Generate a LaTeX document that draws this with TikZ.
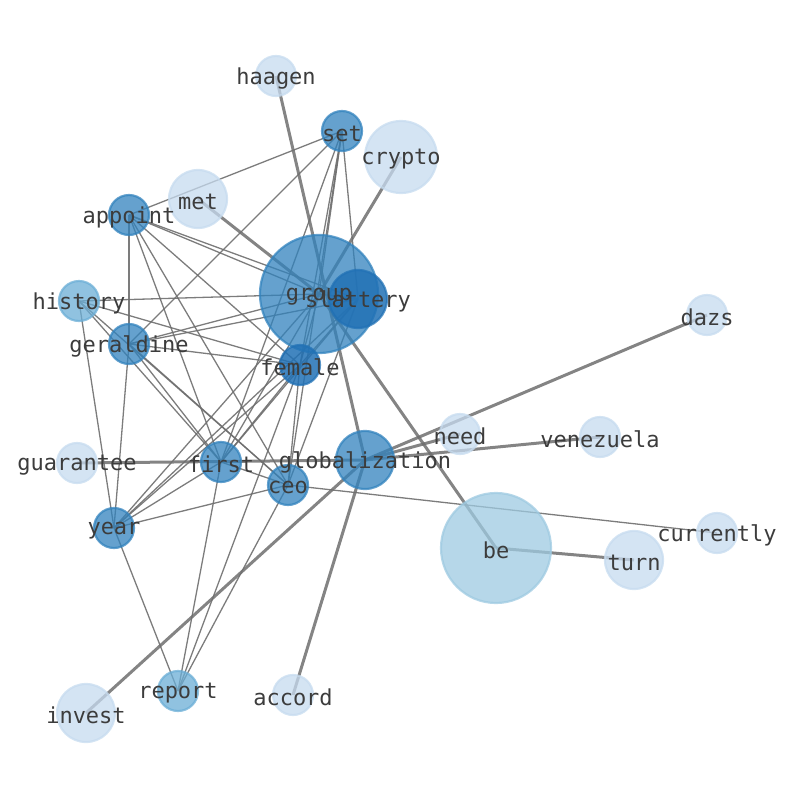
\documentclass[tikz,border=0pt]{standalone}
\usepackage{fontspec}
\newfontfamily\wordfont{DejaVu Sans Mono}
\usepackage{tikz}
\usetikzlibrary{calc}
\pgfdeclarelayer{edges}
\pgfdeclarelayer{labels}
\pgfsetlayers{edges,main,labels}
\definecolor{palec}{RGB}{198,219,239}
\definecolor{bec}{RGB}{158,202,225}
\definecolor{midc}{RGB}{107,174,214}
\definecolor{darkc}{RGB}{49,130,189}
\definecolor{deepc}{RGB}{33,113,181}
\definecolor{edgec}{RGB}{110,110,110}
\definecolor{textc}{RGB}{60,60,60}
\tikzset{
	wnode/.style={circle, inner sep=0pt, line width=2.2pt, fill opacity=.75, draw opacity=.75},
	pale/.style={wnode, draw=palec, fill=palec},
	bubble/.style={wnode, draw=bec, fill=bec},
	mid/.style={wnode, draw=midc, fill=midc},
	dark/.style={wnode, draw=darkc, fill=darkc},
	deep/.style={wnode, draw=deepc, fill=deepc, fill opacity=.85},
	wlabel/.style={inner sep=0pt, yshift=-2.5pt, text=textc, font=\wordfont\fontsize{22}{22}\selectfont},
	thinedge/.style={edgec, line width=1.3pt, opacity=.9},
	thickedge/.style={edgec, line width=3pt, opacity=.85}
}
\def\wordnode[#1](#2)(#3,#4)(#5){\node[#1, minimum size={2*#5-2}] (#2) at (#3,#4) {};
	\begin{pgfonlayer}{labels}\node[wlabel] (#2-w) at (#2.center) {#2};\end{pgfonlayer}}

\begin{document}
\begin{tikzpicture}[x=1pt, y=-1pt]
		%%%%% START %%%%%
		\useasboundingbox (0,0) rectangle (794,790);
		
		\wordnode[pale](haagen)(276,76)(21);
		\wordnode[dark](set)(342,131)(21);
		\wordnode[pale](crypto)(401,157)(37);
		\wordnode[pale](met)(198,199)(30);
		\wordnode[dark](appoint)(129,215)(21);
		\wordnode[dark](group)(319,294)(60);
		\wordnode[deep](slattery)(358,299)(30);
		\wordnode[mid](history)(79,301)(21);
		\wordnode[dark](geraldine)(129,344)(21);
		\wordnode[deep](female)(300,365)(21);
		\wordnode[pale](dazs)(707,315)(21);
		\wordnode[pale](need)(460,434)(21);
		\wordnode[pale](venezuela)(600,437)(21);
		\wordnode[pale](guarantee)(77,463)(21);
		\wordnode[dark](first)(221,462)(21);
		\wordnode[dark](globalization)(365,460)(30);
		\wordnode[dark](ceo)(288,485)(21);
		\wordnode[dark](year)(114,528)(21);
		\wordnode[bubble](be)(496,548)(56);
		\wordnode[pale](turn)(634,560)(30);
		\wordnode[pale](currently)(717,533)(21);
		\wordnode[mid](report)(178,691)(21);
		\wordnode[pale](accord)(293,695)(21);
		\wordnode[pale](invest)(86,713)(30);
		
		\begin{pgfonlayer}{edges}
		% thin links
		\foreach \a/\b in {set/appoint, set/geraldine, set/group, set/slattery, set/female, set/first, set/ceo,
			appoint/group, appoint/slattery, appoint/female, appoint/geraldine, appoint/first, appoint/ceo,
			history/group, history/female, history/first, history/ceo, history/year,
			geraldine/group, geraldine/slattery, geraldine/female, geraldine/first, geraldine/ceo, geraldine/year,
			group/slattery, group/female, group/first, group/year,
			slattery/female, slattery/first, slattery/year, slattery/ceo,
			female/first, female/ceo, female/year, female/report,
			first/year, first/ceo, first/report,
			year/ceo, year/report, ceo/report, ceo/currently}
			\draw[thinedge] (\a.center) -- (\b.center);
		% thick links
		\foreach \a/\b in {haagen/globalization, crypto/group, met/group, group/be, be/turn,
			guarantee/globalization, need/globalization, venezuela/globalization, dazs/globalization,
			invest/globalization, accord/globalization}
			\draw[thickedge] (\a.center) -- (\b.center);
		\end{pgfonlayer}
		
		%%%%% END %%%%%
	\end{tikzpicture}
\end{document}
